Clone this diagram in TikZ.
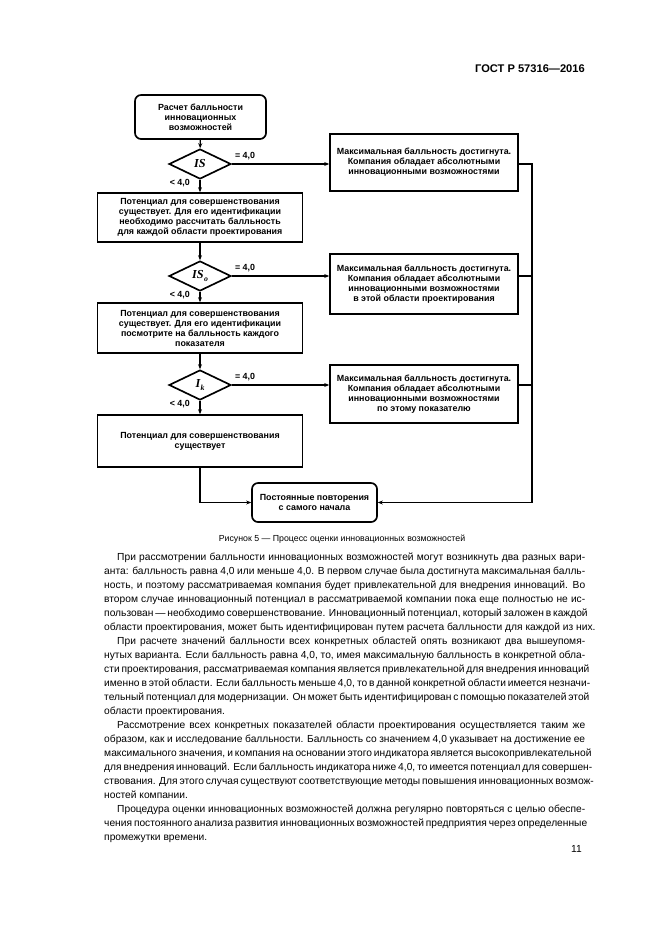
\documentclass[tikz,border=0pt]{standalone}
\usepackage{fontspec}
\setmainfont{Liberation Sans}
\newfontfamily\tmsfnt{Liberation Serif}
\usetikzlibrary{shapes.geometric,arrows.meta}
\newdimen\px \px=0.9pt
\newcommand\boxfnt{\fontsize{8}{9}\selectfont\bfseries}
\newcommand\diafnt{\tmsfnt\fontsize{11}{11}\selectfont\bfseries\itshape}
\newcommand\bodyfnt{\fontsize{9.2}{12}\selectfont}
\newcommand\capfnt{\fontsize{7.9}{10}\selectfont}
\newcommand\hdrfnt{\fontsize{10}{12}\selectfont\bfseries}
\newcommand\subsc[1]{\kern0.3pt\raisebox{-0.4ex}{\fontsize{7}{7}\selectfont #1}}
\newcommand\jline[4]{\node[anchor=base west, inner sep=0pt, font=\bodyfnt] (#1) at (#2) {\makebox[#3][s]{#4}};}
\newcommand\eline[3]{\node[anchor=base west, inner sep=0pt, font=\bodyfnt] (#1) at (#2) {#3};}
\begin{document}
\begin{tikzpicture}[x=0.9pt,y=-0.9pt,
  lbox/.style={draw, line width=1.5pt, minimum width=205*\px, inner sep=0pt, align=center, font=\boxfnt},
  rbox/.style={draw, line width=1.5pt, minimum width=188*\px, inner sep=0pt, align=center, font=\boxfnt},
  rnd/.style={draw, line width=1.5pt, rounded corners=6*\px, inner sep=0pt, align=center, font=\boxfnt},
  dia/.style={draw, diamond, aspect=2, minimum width=62*\px, minimum height=30*\px, inner sep=0pt, line width=1.5pt, font=\diafnt},
  conn/.style={line width=1.1pt},
  arr/.style={conn, -{Stealth[length=4.5pt,width=3.6pt]}},
  lab/.style={font=\boxfnt, inner sep=0pt}]
\useasboundingbox (0,0) rectangle (661,935);
\fill[white] (0,0) rectangle (661,935);

% header
\node[anchor=base east, inner sep=0pt, font=\hdrfnt] (hdr) at (585,72) {ГОСТ Р 57316—2016};

% flowchart
\node[rnd, minimum width=131*\px, minimum height=44*\px] (start) at (200.5,117) {Расчет балльности\\инновационных\\возможностей};
\node[dia] (d1) at (200,164) {IS};
\node[lbox, minimum height=49*\px] (b2) at (200,217.5) {Потенциал для совершенствования\\существует. Для его идентификации\\необходимо рассчитать балльность\\для каждой области проектирования};
\node[dia] (d2) at (200,276) {IS\subsc{o}};
\node[lbox, minimum height=50*\px] (b3) at (200,328) {Потенциал для совершенствования\\существует. Для его идентификации\\посмотрите на балльность каждого\\показателя};
\node[dia] (d3) at (200,385) {I\subsc{k}};
\node[lbox, minimum height=52*\px] (b4) at (200,441) {Потенциал для совершенствования\\существует};
\node[rbox, minimum height=57*\px] (r1) at (424,162.5) {Максимальная балльность достигнута.\\Компания обладает абсолютными\\инновационными возможностями};
\node[rbox, minimum height=60*\px] (r2) at (424,284) {Максимальная балльность достигнута.\\Компания обладает абсолютными\\инновационными возможностями\\в этой области проектирования};
\node[rbox, minimum height=58*\px] (r3) at (424,394) {Максимальная балльность достигнута.\\Компания обладает абсолютными\\инновационными возможностями\\по этому показателю};
\node[rnd, minimum width=125*\px, minimum height=39*\px] (fin) at (314.5,502.5) {Постоянные повторения\\с самого начала};

\draw[arr] (start) -- (d1);
\draw[arr] (d1) -- (b2);
\draw[arr] (b2) -- (d2);
\draw[arr] (d2) -- (b3);
\draw[arr] (b3) -- (d3);
\draw[arr] (d3) -- (b4);
\draw[arr] (d1.east) -- (r1.west |- d1.east);
\draw[arr] (d2.east) -- (r2.west |- d2.east);
\draw[arr] (d3.east) -- (r3.west |- d3.east);
\coordinate (rc) at (532,0);
\draw[arr] (r1.east |- d1.east) -- (rc |- d1.east) -- (rc |- fin.east) -- (fin.east);
\draw[conn] (r2.east |- d2.east) -- (rc |- d2.east);
\draw[conn] (r3.east |- d3.east) -- (rc |- d3.east);
\draw[arr] (b4.south) -- (b4.south |- fin.west) -- (fin.west);

\node[lab, anchor=south west] (e1) at ([shift={(3,-4)}]d1.east) {= 4,0};
\node[lab, anchor=south west] (e2) at ([shift={(3,-4)}]d2.east) {= 4,0};
\node[lab, anchor=south west] (e3) at ([shift={(3,-4)}]d3.east) {= 4,0};
\node[lab, anchor=east] (l1) at ([shift={(-10,3)}]d1.south) {< 4,0};
\node[lab, anchor=east] (l2) at ([shift={(-10,3)}]d2.south) {< 4,0};
\node[lab, anchor=east] (l3) at ([shift={(-10,3)}]d3.south) {< 4,0};

% caption
\node[anchor=base, inner sep=0pt, font=\capfnt] (cap) at (342,541.5) {Рисунок 5 — Процесс оценки инновационных возможностей};

% body text
\jline{t1}{117,560.5}{421.2pt}{При рассмотрении балльности инновационных возможностей могут возникнуть два разных вари-}
\jline{t2}{104,574.5}{432.9pt}{анта: балльность равна 4,0 или меньше 4,0. В первом случае была достигнута максимальная балль-}
\jline{t3}{104,588.5}{432.9pt}{ность, и поэтому рассматриваемая компания будет привлекательной для внедрения инноваций. Во}
\jline{t4}{104,602.5}{432.9pt}{втором случае инновационный потенциал в рассматриваемой компании пока еще полностью не ис-}
\jline{t5}{104,616.5}{432.9pt}{пользован — необходимо совершенствование. Инновационный потенциал, который заложен в каждой}
\eline{t6}{104,630.5}{области проектирования, может быть идентифицирован путем расчета балльности для каждой из них.}
\jline{t7}{117,644.5}{421.2pt}{При расчете значений балльности всех конкретных областей опять возникают два вышеупомя-}
\jline{t8}{104,658.5}{432.9pt}{нутых варианта. Если балльность равна 4,0, то, имея максимальную балльность в конкретной обла-}
\jline{t9}{104,672.5}{432.9pt}{сти проектирования, рассматриваемая компания является привлекательной для внедрения инноваций}
\jline{t10}{104,686.5}{432.9pt}{именно в этой области. Если балльность меньше 4,0, то в данной конкретной области имеется незначи-}
\jline{t11}{104,700.5}{432.9pt}{тельный потенциал для модернизации. Он может быть идентифицирован с помощью показателей этой}
\eline{t12}{104,714.5}{области проектирования.}
\jline{t13}{117,728.5}{421.2pt}{Рассмотрение всех конкретных показателей области проектирования осуществляется таким же}
\jline{t14}{104,742.5}{432.9pt}{образом, как и исследование балльности. Балльность со значением 4,0 указывает на достижение ее}
\jline{t15}{104,756.5}{432.9pt}{максимального значения, и компания на основании этого индикатора является высокопривлекательной}
\jline{t16}{104,770.5}{432.9pt}{для внедрения инноваций. Если балльность индикатора ниже 4,0, то имеется потенциал для совершен-}
\jline{t17}{104,784.5}{432.9pt}{ствования. Для этого случая существуют соответствующие методы повышения инновационных возмож-}
\eline{t18}{104,798.5}{ностей компании.}
\jline{t19}{117,812.5}{421.2pt}{Процедура оценки инновационных возможностей должна регулярно повторяться с целью обеспе-}
\jline{t20}{104,826.5}{432.9pt}{чения постоянного анализа развития инновационных возможностей предприятия через определенные}
\eline{t21}{104,840.5}{промежутки времени.}

\node[anchor=base east, inner sep=0pt, font=\bodyfnt] (pg) at (582,852) {11};
\end{tikzpicture}
\end{document}
